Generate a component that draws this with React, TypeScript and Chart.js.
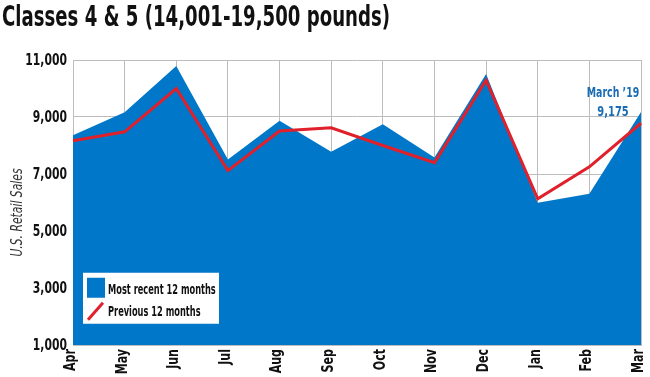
import React, { useEffect, useRef } from "react";
import { Chart, registerables } from "chart.js";

Chart.register(...registerables);

const months = ["Apr", "May", "Jun", "Jul", "Aug", "Sep", "Oct", "Nov", "Dec", "Jan", "Feb", "Mar"];
const recent12 = [8360, 9170, 10790, 7510, 8870, 7780, 8750, 7580, 10510, 5990, 6310, 9175];
const previous12 = [8170, 8480, 10000, 7120, 8510, 8620, 8000, 7400, 10290, 6130, 7250, 8780];
const yTicks = [1000, 3000, 5000, 7000, 9000, 11000];

const titleText = "Classes 4 & 5 (14,001-19,500 pounds)";
const yTitle = "U.S. Retail Sales";
const legendRecent = "Most recent 12 months";
const legendPrevious = "Previous 12 months";
const noteLine1 = "March \u201919";
const noteLine2 = "9,175";

const BLUE = "#0077c8";
const RED = "#e0202a";
const NOTE_BLUE = "#1a6db4";
const FONT = '"DejaVu Sans Condensed", "DejaVu Sans", sans-serif';

function drawText(
  ctx: CanvasRenderingContext2D,
  text: string,
  x: number,
  y: number,
  font: string,
  squeeze: number,
  align: CanvasTextAlign,
  color: string,
  angle = 0
) {
  ctx.save();
  ctx.translate(x, y);
  if (angle) ctx.rotate(angle);
  ctx.scale(squeeze, 1);
  ctx.font = font;
  ctx.fillStyle = color;
  ctx.textAlign = align;
  ctx.textBaseline = "middle";
  ctx.fillText(text, 0, 0);
  ctx.restore();
}

const decorPlugin = {
  id: "decor",
  afterDraw(chart: any) {
    const ctx: CanvasRenderingContext2D = chart.ctx;
    const area = chart.chartArea;
    const ys = chart.scales.y;
    const xs = chart.scales.x;

    // Title: fit to reference width
    ctx.save();
    const titleFont = `bold 29px ${FONT}`;
    ctx.font = titleFont;
    const tw = ctx.measureText(titleText).width;
    ctx.restore();
    drawText(ctx, titleText, 2, 18, titleFont, 388 / tw, "left", "#111");

    // Y ticks
    yTicks.forEach((v) => {
      drawText(ctx, v.toLocaleString("en-US"), area.left - 6, ys.getPixelForValue(v) + 1, `bold 15px ${FONT}`, 0.8, "right", "#111");
    });

    // X ticks
    months.forEach((m, i) => {
      drawText(ctx, m, xs.getPixelForValue(i) - 2, area.bottom + 4, `bold 15px ${FONT}`, 0.82, "right", "#111", -Math.PI / 2);
    });

    // Y axis title
    drawText(ctx, yTitle, 18, (area.top + area.bottom) / 2 + 10, `italic 15px ${FONT}`, 0.8, "center", "#333", -Math.PI / 2);

    // Legend box
    const lx = area.left + 10;
    const ly = ys.getPixelForValue(3500) - 1;
    const lw = 136;
    const lh = 51;
    ctx.save();
    ctx.fillStyle = "#ffffff";
    ctx.fillRect(lx, ly, lw, lh);
    ctx.fillStyle = BLUE;
    ctx.fillRect(lx + 4, ly + 5, 18, 20);
    ctx.strokeStyle = RED;
    ctx.lineWidth = 3;
    ctx.beginPath();
    ctx.moveTo(lx + 5, ly + 47);
    ctx.lineTo(lx + 20, ly + 30);
    ctx.stroke();
    ctx.restore();
    drawText(ctx, legendRecent, lx + 25, ly + 18, `bold 13.5px ${FONT}`, 0.68, "left", "#111");
    drawText(ctx, legendPrevious, lx + 25, ly + 40, `bold 13.5px ${FONT}`, 0.68, "left", "#111");

    // Annotation
    const mx = xs.getPixelForValue(months.length - 1) - 28;
    drawText(ctx, noteLine1, mx, ys.getPixelForValue(9000) - 24, `bold 14.5px ${FONT}`, 0.72, "center", NOTE_BLUE);
    drawText(ctx, noteLine2, mx, ys.getPixelForValue(9000) - 5, `bold 14.5px ${FONT}`, 0.76, "center", NOTE_BLUE);
  },
};

export default function App() {
  const ref = useRef<HTMLCanvasElement>(null);
  useEffect(() => {
    if (!ref.current) return;
    const chart = new Chart(ref.current, {
      type: "line",
      data: {
        labels: months,
        datasets: [
          {
            label: legendPrevious,
            data: previous12,
            borderColor: RED,
            borderWidth: 3,
            pointRadius: 0,
            tension: 0,
            fill: false,
            order: 0,
          },
          {
            label: legendRecent,
            data: recent12,
            borderColor: BLUE,
            backgroundColor: BLUE,
            borderWidth: 0,
            pointRadius: 0,
            tension: 0,
            fill: "start",
            order: 1,
          },
        ],
      },
      options: {
        animation: false,
        responsive: false,
        maintainAspectRatio: false,
        layout: { padding: { left: 0, right: 9, top: 60, bottom: 0 } },
        plugins: {
          legend: { display: false },
          title: { display: false },
          tooltip: { enabled: false },
        },
        scales: {
          x: {
            offset: false,
            grid: { color: "#bdbdbd", lineWidth: 1, drawTicks: false },
            border: { color: "#bdbdbd", width: 1 },
            ticks: { display: false, autoSkip: false },
            afterFit(scale: any) {
              scale.height = 32;
            },
          },
          y: {
            min: 1000,
            max: 11000,
            afterBuildTicks(scale: any) {
              scale.ticks = yTicks.map((v) => ({ value: v }));
            },
            grid: { color: "#bdbdbd", lineWidth: 1, drawTicks: false },
            border: { color: "#bdbdbd", width: 1 },
            ticks: { display: false },
            afterFit(scale: any) {
              scale.width = 73;
            },
          },
        },
      },
      plugins: [decorPlugin],
    });
    return () => chart.destroy();
  }, []);
  return (
    <div style={{ position: "fixed", left: 0, top: 0, width: 650, height: 377, background: "#fff" }}>
      <canvas ref={ref} width={650} height={377} style={{ width: 650, height: 377 }} />
    </div>
  );
}
